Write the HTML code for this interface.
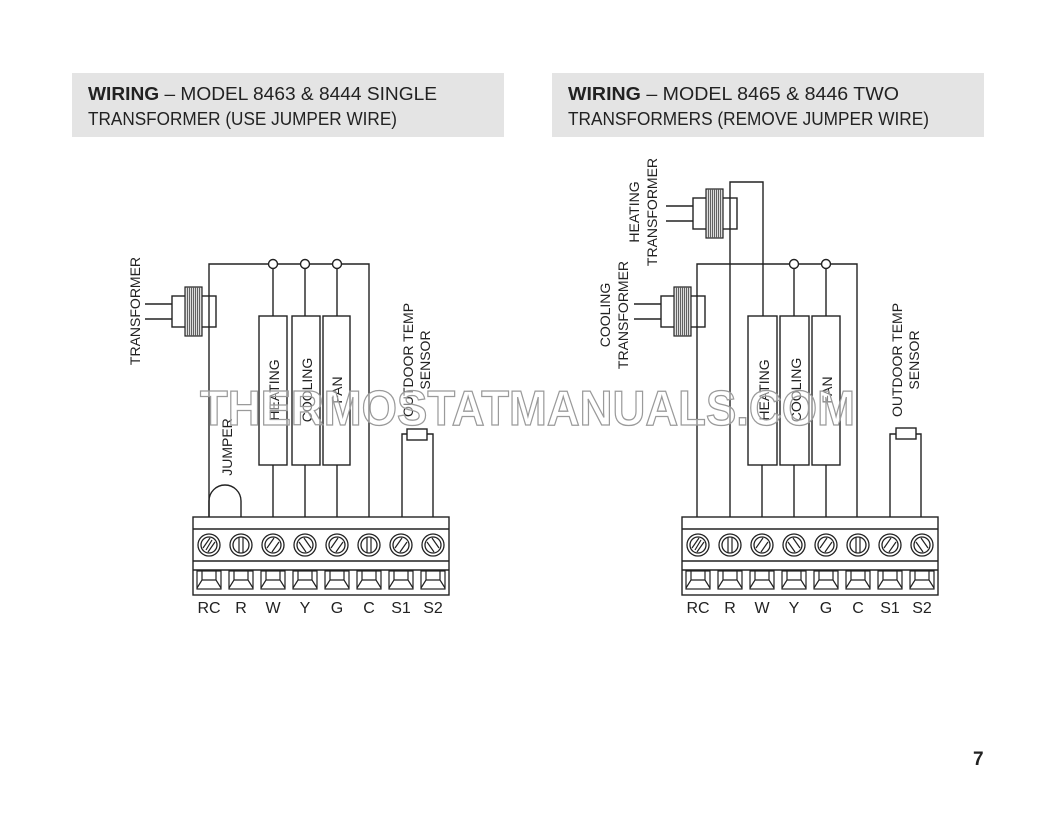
<!DOCTYPE html>
<html><head><meta charset="utf-8"><style>
html,body{margin:0;padding:0;background:#fff;}
svg{display:block;}
</style></head><body>
<svg width="1056" height="816" viewBox="0 0 1056 816" xmlns="http://www.w3.org/2000/svg" font-family="Liberation Sans, sans-serif">
<defs>
<g id="scr" fill="none" stroke="#222" stroke-width="1.3">
<circle r="11"/><circle r="8"/>
</g>
<g id="cell" fill="none" stroke="#222" stroke-width="1.2">
<rect x="-12" y="0" width="24" height="18"/>
<path d="M-7 0V9H7V0M-7 9L-12 17M7 9L12 17"/>
</g>
<g id="coil">
<rect x="0" y="0" width="17" height="49" fill="#ddd" stroke="#222" stroke-width="1.2"/>
<path d="M2.5 0V49M4.5 0V49M6.5 0V49M8.5 0V49M10.5 0V49M12.5 0V49M14.5 0V49" stroke="#555" stroke-width="0.9"/>
</g>
<g id="block">
<rect x="0" y="0" width="256" height="78" fill="#fff" stroke="#222" stroke-width="1.4"/>
<path d="M0 12H256M0 44H256M0 53H256" stroke="#222" stroke-width="1.4"/>
<g transform="translate(16,28)"><use href="#scr"/><path d="M-3 5L3 -5M-6 3L1 -7M6 -3L-1 7" stroke="#222" stroke-width="1.2" fill="none"/></g>
<g transform="translate(48,28)"><use href="#scr"/><path d="M-2 -8V8M2 -8V8" stroke="#222" stroke-width="1.2"/></g>
<g transform="translate(80,28)"><use href="#scr"/><path d="M-6 3L1 -7M6 -3L-1 7" stroke="#222" stroke-width="1.2"/></g>
<g transform="translate(112,28)"><use href="#scr"/><path d="M-6 -3L1 7M6 3L-1 -7" stroke="#222" stroke-width="1.2"/></g>
<g transform="translate(144,28)"><use href="#scr"/><path d="M-6 3L1 -7M6 -3L-1 7" stroke="#222" stroke-width="1.2"/></g>
<g transform="translate(176,28)"><use href="#scr"/><path d="M-2 -8V8M2 -8V8" stroke="#222" stroke-width="1.2"/></g>
<g transform="translate(208,28)"><use href="#scr"/><path d="M-6 3L1 -7M6 -3L-1 7" stroke="#222" stroke-width="1.2"/></g>
<g transform="translate(240,28)"><use href="#scr"/><path d="M-6 -3L1 7M6 3L-1 -7" stroke="#222" stroke-width="1.2"/></g>
<use href="#cell" x="16" y="54"/><use href="#cell" x="48" y="54"/><use href="#cell" x="80" y="54"/><use href="#cell" x="112" y="54"/>
<use href="#cell" x="144" y="54"/><use href="#cell" x="176" y="54"/><use href="#cell" x="208" y="54"/><use href="#cell" x="240" y="54"/>
<g font-size="16" fill="#222" text-anchor="middle">
<text x="16" y="96">RC</text><text x="48" y="96">R</text><text x="80" y="96">W</text><text x="112" y="96">Y</text>
<text x="144" y="96">G</text><text x="176" y="96">C</text><text x="208" y="96">S1</text><text x="240" y="96">S2</text>
</g>
</g>
</defs>

<rect x="72" y="73" width="432" height="64" fill="#e4e4e4"/>
<rect x="552" y="73" width="432" height="64" fill="#e4e4e4"/>
<g font-size="18" fill="#222">
<text x="88" y="100" textLength="349" lengthAdjust="spacingAndGlyphs"><tspan font-weight="bold">WIRING</tspan> – MODEL 8463 &amp; 8444 SINGLE</text>
<text x="88" y="125" textLength="309" lengthAdjust="spacingAndGlyphs">TRANSFORMER (USE JUMPER WIRE)</text>
<text x="568" y="100" textLength="331" lengthAdjust="spacingAndGlyphs"><tspan font-weight="bold">WIRING</tspan> – MODEL 8465 &amp; 8446 TWO</text>
<text x="568" y="125" textLength="361" lengthAdjust="spacingAndGlyphs">TRANSFORMERS (REMOVE JUMPER WIRE)</text>
</g>

<g fill="none" stroke="#222" stroke-width="1.4">
<path d="M209 518V264H369V518"/>
<path d="M273 264V316M305 264V316M337 264V316"/>
<path d="M273 465V518M305 465V518M337 465V518"/>
<rect x="259" y="316" width="28" height="149" fill="#fff"/>
<rect x="292" y="316" width="28" height="149" fill="#fff"/>
<rect x="323" y="316" width="27" height="149" fill="#fff"/>
<circle cx="273" cy="264" r="4.5" fill="#fff"/><circle cx="305" cy="264" r="4.5" fill="#fff"/><circle cx="337" cy="264" r="4.5" fill="#fff"/>
<path d="M209 518V501A16 16 0 0 1 241 501V518"/>
<path d="M145 304H172M145 319H172"/>
<rect x="172" y="296" width="44" height="31" fill="#fff"/>
<path d="M402 518V434H433V518"/>
<rect x="407" y="429" width="20" height="11" fill="#fff"/>
</g>
<path d="M209 296V327" stroke="#222" stroke-width="1.4"/>
<use href="#coil" x="185" y="287"/>
<use href="#block" x="193" y="517"/>
<g font-size="14" fill="#222" text-anchor="middle">
<text transform="translate(140,311) rotate(-90)">TRANSFORMER</text>
<text transform="translate(232,447) rotate(-90)">JUMPER</text>
<text transform="translate(279,390) rotate(-90)">HEATING</text>
<text transform="translate(312,390) rotate(-90)">COOLING</text>
<text transform="translate(342,390) rotate(-90)">FAN</text>
<text transform="translate(413,360) rotate(-90)">OUTDOOR TEMP</text>
<text transform="translate(430,360) rotate(-90)">SENSOR</text>
</g>

<g fill="none" stroke="#222" stroke-width="1.4">
<path d="M697 518V264H857V518"/>
<path d="M730 518V182H763V316"/>
<path d="M794 264V316M826 264V316"/>
<path d="M762 465V518M794 465V518M826 465V518"/>
<rect x="748" y="316" width="29" height="149" fill="#fff"/>
<rect x="780" y="316" width="29" height="149" fill="#fff"/>
<rect x="812" y="316" width="28" height="149" fill="#fff"/>
<circle cx="794" cy="264" r="4.5" fill="#fff"/><circle cx="826" cy="264" r="4.5" fill="#fff"/>
<path d="M666 206H693M666 221H693"/>
<rect x="693" y="198" width="44" height="31" fill="#fff"/>
<path d="M634 304H661M634 319H661"/>
<rect x="661" y="296" width="44" height="31" fill="#fff"/>
<path d="M890 518V434H921V518"/>
<rect x="896" y="428" width="20" height="11" fill="#fff"/>
</g>
<path d="M730 198V229M697 296V327" stroke="#222" stroke-width="1.4"/>
<use href="#coil" x="706" y="189"/>
<use href="#coil" x="674" y="287"/>
<use href="#block" x="682" y="517"/>
<g font-size="14" fill="#222" text-anchor="middle">
<text transform="translate(639,212) rotate(-90)">HEATING</text>
<text transform="translate(657,212) rotate(-90)">TRANSFORMER</text>
<text transform="translate(610,315) rotate(-90)">COOLING</text>
<text transform="translate(628,315) rotate(-90)">TRANSFORMER</text>
<text transform="translate(769,390) rotate(-90)">HEATING</text>
<text transform="translate(801,390) rotate(-90)">COOLING</text>
<text transform="translate(832,390) rotate(-90)">FAN</text>
<text transform="translate(902,360) rotate(-90)">OUTDOOR TEMP</text>
<text transform="translate(919,360) rotate(-90)">SENSOR</text>
</g>

<text x="200" y="425" font-size="49" font-weight="bold" textLength="655" lengthAdjust="spacingAndGlyphs" fill="#ffffff" fill-opacity="0.45" stroke="#9a9a9a" stroke-width="1.3">THERMOSTATMANUALS.COM</text>

<text x="973" y="765" font-size="19" font-weight="bold" fill="#222">7</text>
</svg>
</body></html>
